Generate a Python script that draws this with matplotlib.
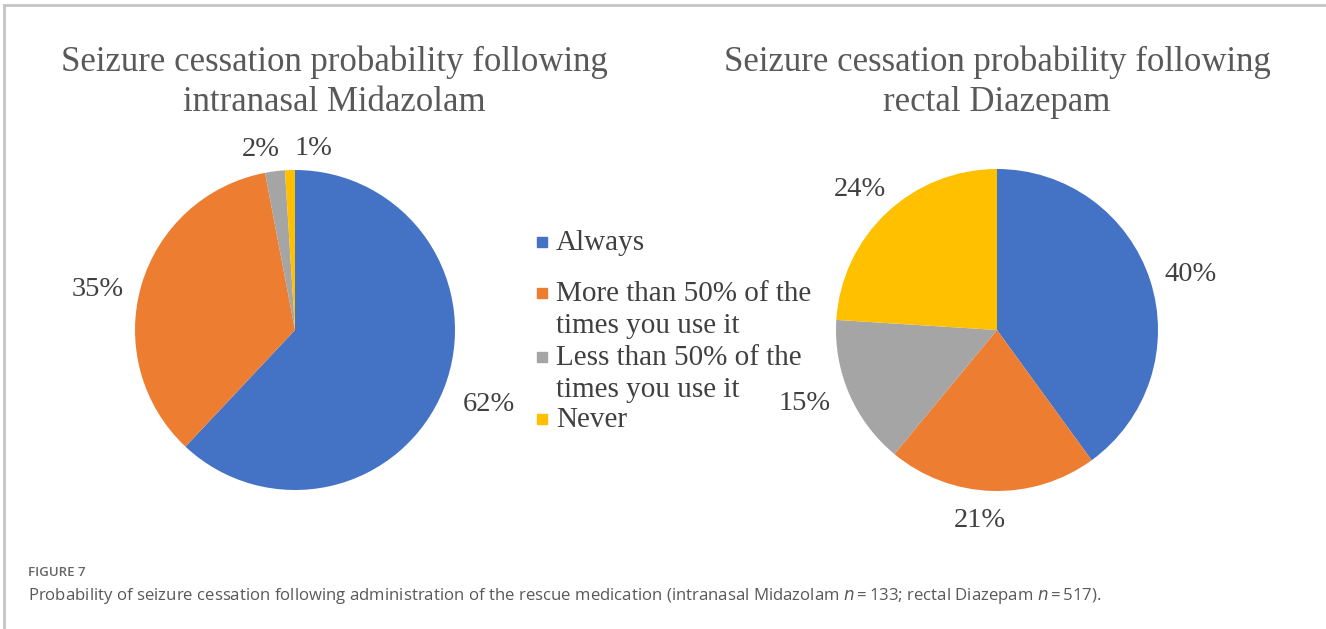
import numpy as np
import matplotlib.pyplot as plt
from matplotlib.lines import Line2D
from matplotlib.patches import Rectangle

categories = ['Always', 'More than 50% of the\ntimes you use it',
              'Less than 50% of the\ntimes you use it', 'Never']
midazolam = [62, 35, 2, 1]
diazepam = [40, 21, 15, 24]
colors = ['#4472C4', '#ED7D31', '#A5A5A5', '#FFC000']

title_left = 'Seizure cessation probability following\nintranasal Midazolam'
title_right = 'Seizure cessation probability following\nrectal Diazepam'
caption_head = 'FIGURE 7'
caption = ('Probability of seizure cessation following administration of the rescue medication '
           '(intranasal Midazolam $\\it{n}$\u2009=\u2009133; rectal Diazepam $\\it{n}$\u2009=\u2009517).')

# label placement (radius factor, angle nudge in degrees)
left_lab = [(1.30, 0.6), (1.26, 4.7), (1.15, 3.5), (1.14, -7.5)]
right_lab = [(1.25, -2.0), (1.19, -3.3), (1.28, -2.6), (1.22, 1.2)]

W, H = 1326, 629
fig = plt.figure(figsize=(W / 100, H / 100), dpi=100)
serif = 'Liberation Serif'


def px_axes(cx, cy, r):
    return fig.add_axes([(cx - r) / W, 1 - (cy + r) / H, 2 * r / W, 2 * r / H])


def draw_pie(ax, vals, labs):
    wedges, _ = ax.pie(vals, colors=colors, startangle=90, counterclock=False,
                       wedgeprops=dict(linewidth=0))
    ax.set_xlim(-1, 1)
    ax.set_ylim(-1, 1)
    ax.axis('off')
    for w, v, (rf, dth) in zip(wedges, vals, labs):
        th = np.deg2rad((w.theta1 + w.theta2) / 2 + dth)
        ax.text(rf * np.cos(th), rf * np.sin(th), f'{v}%', ha='center', va='center',
                fontsize=20.5, family=serif, color='#404040', clip_on=False)


draw_pie(px_axes(295, 330, 160), midazolam, left_lab)
draw_pie(px_axes(997, 330, 161), diazepam, right_lab)

fig.text(334 / W, 1 - 82 / H, title_left, ha='center', va='center', fontsize=25,
         family=serif, color='#595959', linespacing=1.27)
fig.text(997 / W, 1 - 82 / H, title_right, ha='center', va='center', fontsize=25,
         family=serif, color='#595959', linespacing=1.27)

# legend, one text per line
leg_y = [242, 293, 357, 419]
for c, lab, y in zip(colors, categories, leg_y):
    fig.patches.append(Rectangle(((537) / W, 1 - (y + 5) / H), 10 / W, 10 / H,
                                 transform=fig.transFigure, color=c))
    for i, line in enumerate(lab.split('\n')):
        fig.text(556 / W, 1 - (y + 1 + 32 * i) / H, line, ha='left', va='center',
                 fontsize=21, family=serif, color='#404040')

# frame
fig.add_artist(Line2D([4 / W, 4 / W], [0, 1 - 5 / H], color='#c4c4c4', lw=2))
fig.add_artist(Line2D([4 / W, 1], [1 - 5 / H, 1 - 5 / H], color='#c4c4c4', lw=2))

fig.text(28 / W, 1 - 572 / H, caption_head, ha='left', va='center', fontsize=9.5,
         family='Open Sans', weight='semibold', color='#666666')
fig.text(28 / W, 1 - 596 / H, caption, ha='left', va='center', fontsize=12.1,
         family='Open Sans', color='#595959')

fig.savefig('out.png', dpi=100, facecolor='white')
